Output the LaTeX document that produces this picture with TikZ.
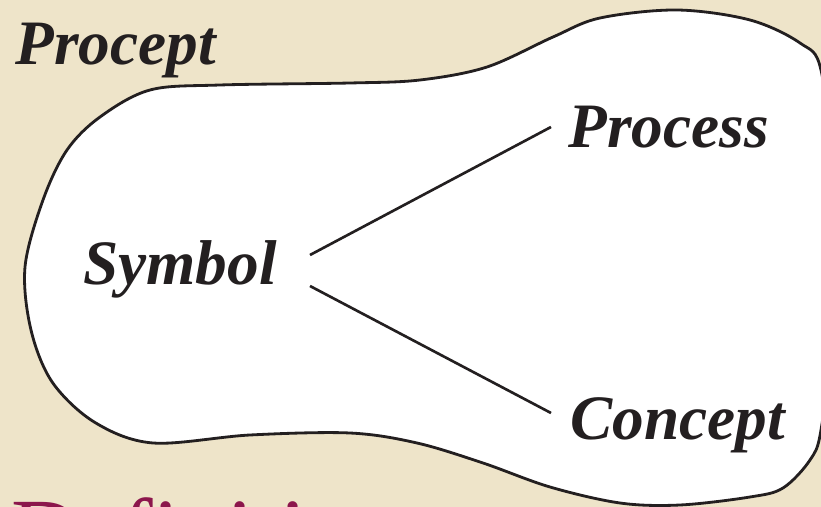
\documentclass[tikz,border=0pt]{standalone}
\usepackage{fontspec}
\setmainfont{Liberation Serif}
\usepackage{xcolor}
\usetikzlibrary{calc}
\definecolor{paper}{RGB}{238,228,201}
\definecolor{ink}{RGB}{35,31,32}
\definecolor{plum}{RGB}{140,22,76}

\begin{document}
\begin{tikzpicture}[
    word/.style={inner sep=0pt, text=ink, font=\fontsize{36}{40}\selectfont\bfseries\itshape},
    link/.style={draw=ink, line width=1.5pt}]
    %\draw[step=1, gray,very thin] (0,0) grid (16.42,-10.14);
    \fill[paper] (0,0) rectangle (16.42,-10.14);
    \clip (0,0) rectangle (16.42,-10.14);
    \useasboundingbox (0,0) rectangle (16.42,-10.14);

    % the blob
    \draw[ink, fill=white, line width=1.6pt] plot[smooth cycle, tension=0.55] coordinates {
      (0.50,-5.34) (0.62,-6.60) (1.05,-7.65) (1.90,-8.45) (3.06,-8.86)
      (5.00,-8.70) (7.00,-8.66) (8.34,-8.86) (9.66,-9.26) (11.00,-9.74)
      (12.40,-10.06) (13.60,-10.10) (15.00,-9.94) (15.66,-9.76) (16.20,-9.20)
      (16.42,-8.60) (16.64,-6.60) (16.64,-3.60) (16.42,-1.40) (16.00,-0.86)
      (15.00,-0.40) (13.54,-0.20) (12.00,-0.36) (11.06,-0.74) (9.74,-1.34)
      (8.40,-1.60) (7.00,-1.66) (4.40,-1.70) (3.00,-1.80) (2.00,-2.34)
      (1.34,-3.00) (0.86,-4.00)};

    \begin{scope}
    \node[word, anchor=base west] (procept) at (0.30,-1.30) {Procept};
    \node[word, anchor=base west] (process) at (11.36,-2.96) {Process};
    \node[word, anchor=base east] (symbol) at (5.54,-5.70) {Symbol};
    \node[word, anchor=base west] (concept) at (11.40,-8.80) {Concept};
    \node[inner sep=0pt, anchor=base west, text=plum,
          font=\fontsize{54}{60}\selectfont] (defn) at (0.22,-11.28) {Definition};
    \end{scope}

    \begin{scope}
    \draw[link] ([xshift=0.66cm, yshift=0.60cm]symbol.base east)
        -- ([xshift=-0.34cm, yshift=0.42cm]process.base west);
    \draw[link] ([xshift=0.66cm, yshift=-0.02cm]symbol.base east)
        -- ([xshift=-0.38cm, yshift=0.54cm]concept.base west);
    \end{scope}
\end{tikzpicture}
\end{document}
